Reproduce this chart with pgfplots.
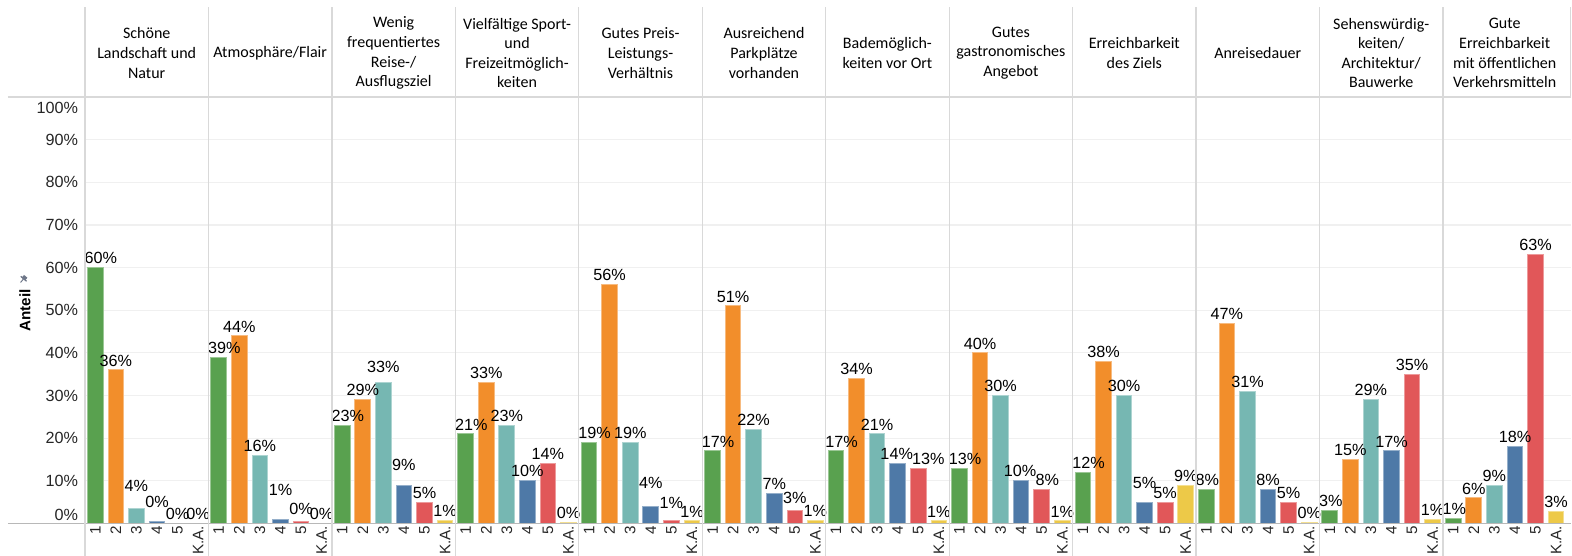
\documentclass[border=0pt]{standalone}
\usepackage{fontspec}
\setmainfont{Liberation Sans}
\newfontfamily\hdr{Carlito}
\usepackage{pgfplots}
\usepackage{pgfplotstable}
\pgfplotsset{compat=1.18}

\definecolor{cA}{HTML}{59A14F}
\definecolor{cB}{HTML}{F28E2B}
\definecolor{cC}{HTML}{76B7B2}
\definecolor{cD}{HTML}{4E79A7}
\definecolor{cE}{HTML}{E15759}
\definecolor{cF}{HTML}{EDC948}
\definecolor{linec}{HTML}{D9D9D9}
\definecolor{gridc}{HTML}{F0F0F0}
\definecolor{pinc}{HTML}{6E7789}

\newcommand{\lbl}{\fontsize{8.1}{10}\selectfont}
\newcommand{\xlbl}{\fontsize{7.6}{9}\selectfont}
\newcommand{\hd}{\hdr\fontsize{8}{9.8}\selectfont}

% x = panel*6 + category, y = share in %, dx/dy = label nudge (pt)
\pgfplotstableread{
x y dx dy
0 60 2.8 0
6 39 2.8 0
12 23 2.8 0
18 21 2.8 0
24 19 2.8 0
30 17 2.8 0
36 17 2.8 0
42 13 2.8 0
48 12 2.8 0
54 8 0.5 0
60 3 0.5 0
66 1.2 0.5 0
}\catA
\pgfplotstableread{
x y dx dy
1 36 0 0
7 44 0 0
13 29 0 0
19 33 0 0
25 56 0 0
31 51 0 0
37 34 0 0
43 40 0 0
49 38 0 0
55 47 0 0
61 15 0 0
67 6 0 0
}\catB
\pgfplotstableread{
x y dx dy
2 3.6 0 6.5
8 16 0 0
14 33 0 3
20 23 0 0
26 19 0 0
32 22 0 0
38 21 0 0
44 30 0 0
50 30 0 0
56 31 0 0
62 29 0 0
68 9 0 0
}\catC
\pgfplotstableread{
x y dx dy
3 0.4 0 5
9 1 0 10
15 9 0 5.5
21 10 0 0
27 4 0 7
33 7 0 0
39 14 -0.5 0
45 10 -0.5 0
51 5 0 5
57 8 0 0
63 17 0 0
69 18 0 0
}\catD
\pgfplotstableread{
x y dx dy
4 0 0 0
10 0.4 0 1.5
16 5 0 0
22 14 0 0
28 0.8 0 4
34 3 0 1.5
40 13 5 0
46 8 2.8 0
52 5 0 0
58 5 0 0
64 35 0 0
70 63 0 0
}\catE
\pgfplotstableread{
x y dx dy
5 0 0 0
11 0 0 0
17 0.8 0 0
23 0.3 0 0
29 0.6 0 0
35 0.8 0 0
41 0.6 0 0
47 0.6 0 0
53 9 0 0
59 0.3 0 0
65 1 0 0
71 2.8 0 0
}\catF

\begin{document}
\begin{tikzpicture}[x=1pt,y=1pt]
\useasboundingbox (-42.5,-16.25) rectangle (743.5,261.75);
\begin{axis}[
    at={(0,0)}, anchor=south west,
    scale only axis,
    width=742.75pt, height=213.25pt,
    xmin=-0.5, xmax=71.7,
    ymin=0, ymax=100,
    clip=false,
    axis line style={draw=none},
    tick style={draw=none},
    ymajorgrids,
    grid style={draw=gridc, line width=0.6pt},
    ytick={10,20,...,90},
    extra y ticks={0,100},
    extra y tick style={
        yticklabel style={yshift={ifthenelse(\ticknum==0,4.2,-5.6)}},
    },
    yticklabel={\pgfmathprintnumber{\tick}\%},
    y tick label style={font=\lbl, text=black!85},
    xtick={0,...,71},
    xticklabels={1,2,3,4,5,K.A.,1,2,3,4,5,K.A.,1,2,3,4,5,K.A.,1,2,3,4,5,K.A.,
                 1,2,3,4,5,K.A.,1,2,3,4,5,K.A.,1,2,3,4,5,K.A.,1,2,3,4,5,K.A.,
                 1,2,3,4,5,K.A.,1,2,3,4,5,K.A.,1,2,3,4,5,K.A.,1,2,3,4,5,K.A.},
    x tick label style={font=\xlbl, text=black!85, rotate=90, anchor=east, inner sep=1pt},
    /pgf/number format/assume math mode=true,
    bar width=0.76,
    point meta=y,
    visualization depends on={\thisrow{dx}\as\dx},
    visualization depends on={\thisrow{dy}\as\dy},
    nodes near coords={\pgfmathprintnumber[fixed,precision=0]{\pgfplotspointmeta}\%},
    every node near coord/.append style={font=\lbl, text=black, inner sep=1.6pt,
        xshift=\dx pt, yshift=\dy pt},
    bars/.style={ybar, bar shift=0pt, fill=#1, draw=#1!60!white, line width=0.5pt},
]
\addplot[bars=cA] table[x=x, y=y] {\catA};
\addplot[bars=cB] table[x=x, y=y] {\catB};
\addplot[bars=cC] table[x=x, y=y] {\catC};
\addplot[bars=cD] table[x=x, y=y] {\catD};
\addplot[bars=cE] table[x=x, y=y] {\catE};
\addplot[bars=cF] table[x=x, y=y] {\catF};
\end{axis}

% frame lines
\draw[linec, line width=0.6pt] (-38.5,213.25) -- (743,213.25);
\draw[linec!85!black, line width=0.6pt] (-38.5,0) -- (743,0);
\foreach \p in {0,...,11} {
  \draw[linec, line width=0.6pt] ({61.724*\p},-16.25) -- ({61.724*\p},258.25);
}
\draw[linec, line width=0.6pt] (742.75,213.25) -- (742.75,258.25);

% panel headers
\node[font=\hd, align=center] at (30.86,235.2) {Schöne\\Landschaft und\\Natur};
\node[font=\hd, align=center] at (92.59,235.2) {Atmosphäre/Flair};
\node[font=\hd, align=center] at (154.31,235.2) {Wenig\\frequentiertes\\Reise-/\\Ausflugsziel};
\node[font=\hd, align=center] at (216.03,235.2) {Vielfältige Sport-\\und\\Freizeitmöglich-\\keiten};
\node[font=\hd, align=center] at (277.76,235.2) {Gutes Preis-\\Leistungs-\\Verhältnis};
\node[font=\hd, align=center] at (339.48,235.2) {Ausreichend\\Parkplätze\\vorhanden};
\node[font=\hd, align=center] at (401.21,235.2) {Bademöglich-\\keiten vor Ort};
\node[font=\hd, align=center] at (462.93,235.2) {Gutes\\gastronomisches\\Angebot};
\node[font=\hd, align=center] at (524.65,235.2) {Erreichbarkeit\\des Ziels};
\node[font=\hd, align=center] at (586.38,235.2) {Anreisedauer};
\node[font=\hd, align=center] at (648.10,235.2) {Sehenswürdig-\\keiten/\\Architektur/\\Bauwerke};
\node[font=\hd, align=center] at (709.83,235.2) {Gute\\Erreichbarkeit\\mit öffentlichen\\Verkehrsmitteln};

% y axis title with pin
\node[rotate=90, font=\bfseries\fontsize{7.6}{9}\selectfont] at (-30,106.5) {Anteil};
\begin{scope}[shift={(-30.8,122.2)}, rotate=-40]
  \fill[pinc] (-1.1,0) rectangle (1.1,1.8);
  \fill[pinc] (-1.9,-0.1) rectangle (1.9,0.5);
  \draw[pinc, line width=0.5pt] (0,0) -- (0,-2.2);
\end{scope}
\end{tikzpicture}
\end{document}
